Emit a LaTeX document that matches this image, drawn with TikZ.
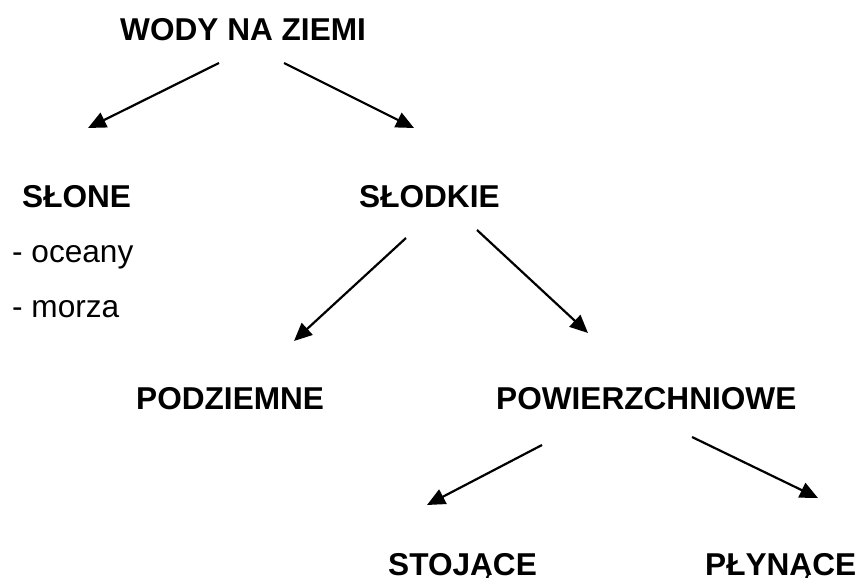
\documentclass[tikz,border=0pt]{standalone}
\usepackage{fontspec}
\setmainfont{Liberation Sans}
\usetikzlibrary{arrows.meta}
\begin{document}
\begin{tikzpicture}[x=1pt,y=-1pt,
  lbl/.style={inner sep=0pt,anchor=base west,font=\fontsize{31.6}{38}\selectfont\bfseries},
  txt/.style={inner sep=0pt,anchor=base west,font=\fontsize{31.6}{38}\selectfont},
  arr/.style={line width=2.2pt,-{Triangle[length=18pt,width=16pt]}}]
\useasboundingbox (0,0) rectangle (860,578);
\node[lbl] (root) at (120,41) {WODY NA ZIEMI};
\node[lbl] (slone) at (22,207) {SŁONE};
\node[txt] (oce) at (12,262) {- oceany};
\node[txt] (mor) at (12,317) {- morza};
\node[lbl] (slod) at (359,207) {SŁODKIE};
\node[lbl] (podz) at (136,409) {PODZIEMNE};
\node[lbl] (powi) at (496,409) {POWIERZCHNIOWE};
\node[lbl] (stoj) at (388,575) {STOJĄCE};
\node[lbl] (plyn) at (705,575) {PŁYNĄCE};
\coordinate (a1s) at (219,63);  \coordinate (a1e) at (88,128);
\coordinate (a2s) at (284,63);  \coordinate (a2e) at (414,128);
\coordinate (a3s) at (406,238); \coordinate (a3e) at (294,341);
\coordinate (a4s) at (477,230); \coordinate (a4e) at (588,333);
\coordinate (a5s) at (542,445); \coordinate (a5e) at (427,505);
\coordinate (a6s) at (692,437); \coordinate (a6e) at (818,498);
\draw[arr] (a1s) -- (a1e);
\draw[arr] (a2s) -- (a2e);
\draw[arr] (a3s) -- (a3e);
\draw[arr] (a4s) -- (a4e);
\draw[arr] (a5s) -- (a5e);
\draw[arr] (a6s) -- (a6e);
\end{tikzpicture}
\end{document}
